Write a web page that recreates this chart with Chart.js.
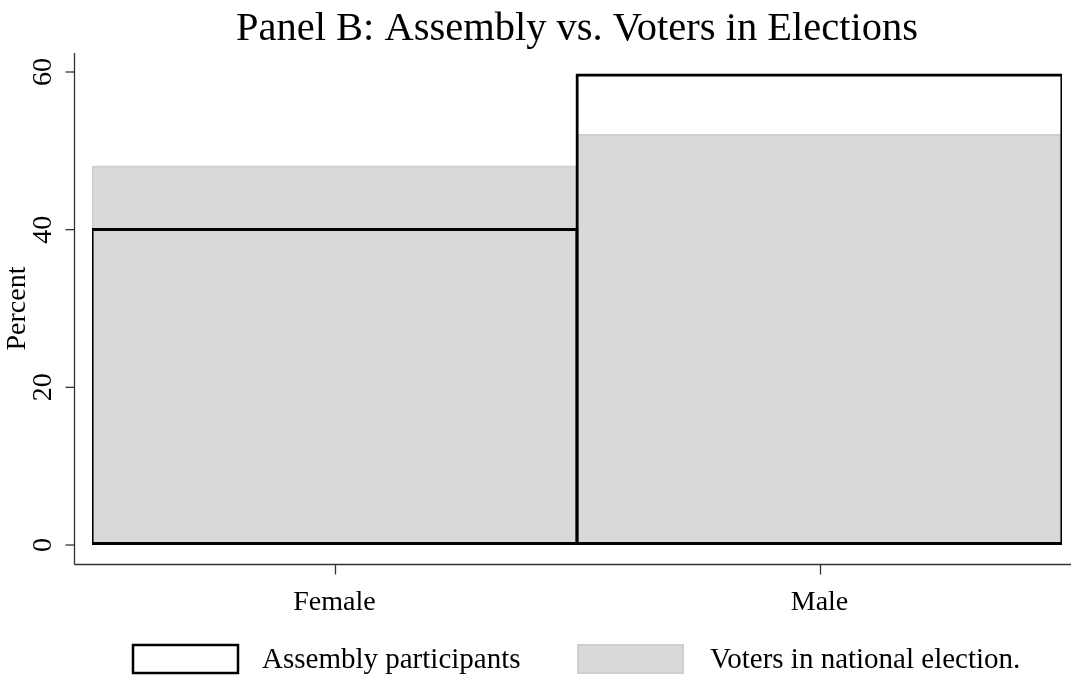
<!DOCTYPE html>
<html>
<head>
<meta charset="utf-8">
<script src="https://cdn.jsdelivr.net/npm/chart.js@4/dist/chart.umd.min.js"></script>
<style>
html,body{margin:0;padding:0;background:#fff;}
#wrap{position:relative;width:1071px;height:677px;}
</style>
</head>
<body>
<div id="wrap"><canvas id="c" width="1071" height="677"></canvas></div>
<script>
const categories = ['Female', 'Male'];
const assemblyParticipants = [40.2, 59.8];
const votersNational = [48.1, 52.1];
const yTicks = [0, 20, 40, 60];
const seriesLabels = ['Assembly participants', 'Voters in national election.'];
const titleText = 'Panel B: Assembly vs. Voters in Elections';
const yTitle = 'Percent';

const FONT = "'Liberation Serif', 'Times New Roman', serif";

const axisPlugin = {
  id: 'stataAxes',
  afterDraw(chart) {
    const ctx = chart.ctx;
    const xs = chart.scales.x, ys = chart.scales.y;
    const axX = 74.5;   // y axis line position
    const axY = 564.5;  // x axis line position
    ctx.save();
    ctx.strokeStyle = '#333';
    ctx.lineWidth = 1.3;
    ctx.beginPath();
    ctx.moveTo(axX, 53);
    ctx.lineTo(axX, axY);
    ctx.stroke();
    yTicks.forEach(v => {
      const py = ys.getPixelForValue(v);
      ctx.beginPath();
      ctx.moveTo(axX - 9, py);
      ctx.lineTo(axX, py);
      ctx.stroke();
    });
    ctx.beginPath();
    ctx.moveTo(axX, axY);
    ctx.lineTo(chart.width, axY);
    ctx.stroke();
    categories.forEach((c, i) => {
      const px = Math.round(xs.getPixelForValue(i)) + 0.5;
      ctx.beginPath();
      ctx.moveTo(px, axY);
      ctx.lineTo(px, axY + 10);
      ctx.stroke();
    });
    // legend
    const ds = chart.data.datasets;
    const items = [
      {x: 133, tx: 262, ds: ds[0]},
      {x: 578, tx: 710, ds: ds[1]}
    ];
    ctx.font = "29px " + FONT;
    ctx.textBaseline = 'middle';
    ctx.textAlign = 'left';
    items.forEach(it => {
      const bw = 105, bh = 28, by = 645;
      ctx.fillStyle = it.ds.legendFill;
      ctx.fillRect(it.x, by, bw, bh);
      ctx.strokeStyle = it.ds.borderColor;
      ctx.lineWidth = it.ds.legendBorder;
      ctx.strokeRect(it.x, by, bw, bh);
      ctx.fillStyle = '#000';
      ctx.fillText(it.ds.label, it.tx, by + bh / 2 + 1);
    });
    ctx.restore();
  }
};

new Chart(document.getElementById('c'), {
  type: 'bar',
  data: {
    labels: categories,
    datasets: [
      {
        label: seriesLabels[0],
        data: assemblyParticipants,
        backgroundColor: 'rgba(0,0,0,0)',
        legendFill: '#ffffff',
        legendBorder: 2.5,
        borderColor: '#000000',
        borderWidth: 3,
        borderSkipped: false,
        grouped: false,
        barPercentage: 1.006,
        categoryPercentage: 1
      },
      {
        label: seriesLabels[1],
        data: votersNational,
        backgroundColor: '#d9d9d9',
        legendFill: '#d9d9d9',
        legendBorder: 2,
        borderColor: '#cecece',
        borderWidth: 2,
        borderSkipped: false,
        grouped: false,
        barPercentage: 1,
        categoryPercentage: 1
      }
    ]
  },
  options: {
    responsive: false,
    animation: false,
    devicePixelRatio: 1,
    layout: { padding: { left: 0, right: 9, top: 0, bottom: 62 } },
    plugins: {
      legend: { display: false },
      tooltip: { enabled: false },
      title: {
        display: true,
        fullSize: false,
        text: titleText,
        color: '#000',
        font: { family: FONT, size: 40.5, weight: 'normal', lineHeight: 1.2 },
        padding: { top: 5, bottom: 18.4 }
      }
    },
    scales: {
      x: {
        type: 'category',
        offset: true,
        grid: { display: false, drawTicks: false },
        border: { display: false },
        ticks: {
          color: '#000',
          font: { family: FONT, size: 28 },
          padding: 41
        },
        afterFit(s) { s.height = 70; }
      },
      y: {
        min: 0,
        max: 60,
        afterBuildTicks(s) { s.ticks = yTicks.map(v => ({ value: v })); },
        grid: { display: false, drawTicks: false },
        border: { display: false },
        ticks: {
          color: '#000',
          font: { family: FONT, size: 28 },
          minRotation: 90,
          maxRotation: 90,
          crossAlign: 'center',
          padding: 34
        },
        title: {
          display: true,
          text: yTitle,
          color: '#000',
          font: { family: FONT, size: 28 },
          padding: { top: 1, bottom: 0 }
        },
        afterFit(s) { s.width = 92; }
      }
    }
  },
  plugins: [axisPlugin]
});
</script>
</body>
</html>
